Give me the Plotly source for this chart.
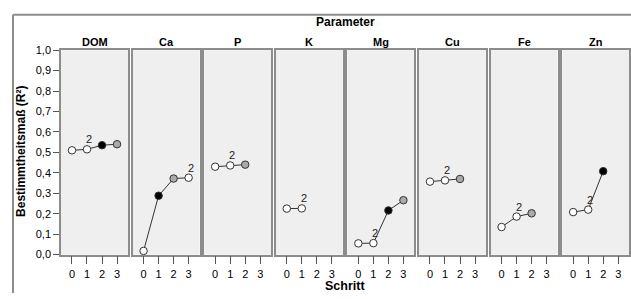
import plotly.graph_objects as go

params = ["DOM", "Ca", "P", "K", "Mg", "Cu", "Fe", "Zn"]
values = {
    "DOM": [0.51, 0.515, 0.535, 0.54],
    "Ca": [0.018, 0.288, 0.372, 0.376],
    "P": [0.43, 0.436, 0.44],
    "K": [0.225, 0.226],
    "Mg": [0.055, 0.056, 0.216, 0.266],
    "Cu": [0.357, 0.363, 0.37],
    "Fe": [0.135, 0.186, 0.202],
    "Zn": [0.208, 0.22, 0.408],
}
fills = {
    "DOM": ["w", "w", "b", "g"],
    "Ca": ["w", "b", "g", "w"],
    "P": ["w", "w", "g"],
    "K": ["w", "w"],
    "Mg": ["w", "w", "b", "g"],
    "Cu": ["w", "w", "g"],
    "Fe": ["w", "w", "g"],
    "Zn": ["w", "w", "b"],
}
label_step = {"DOM": 1, "Ca": 3, "P": 1, "K": 1, "Mg": 1, "Cu": 1, "Fe": 1, "Zn": 1}
label_text = "2"
x_ticks = [0, 1, 2, 3]
y_ticks = [0.0, 0.1, 0.2, 0.3, 0.4, 0.5, 0.6, 0.7, 0.8, 0.9, 1.0]
y_ticktext = ["0,0", "0,1", "0,2", "0,3", "0,4", "0,5", "0,6", "0,7", "0,8", "0,9", "1,0"]

W, H = 631, 299
color_map = {"w": "#ffffff", "b": "#000000", "g": "#aaaaaa"}
FONT = "Liberation Sans, Arial, sans-serif"

fig = go.Figure()
panel_left = 61
panel_w = 67
gap = 4.6
top_px, bot_px = 46, 259
ydom = [(H - bot_px) / H, (H - top_px) / H]
border = "#8c8c8c"
tickc = "#555555"

def paper_text(xpx, ypx, text, size, angle=0):
    return dict(x=xpx / W, y=(H - ypx) / H, xref="paper", yref="paper",
                xanchor="center", yanchor="middle", text=text, showarrow=False,
                textangle=angle, font=dict(family=FONT, size=size, color="#000"))

annotations = []
for i, p in enumerate(params):
    n = i + 1
    xa = "x" if n == 1 else f"x{n}"
    ya = "y" if n == 1 else f"y{n}"
    l = panel_left + i * (panel_w + gap)
    r = l + panel_w
    vals = values[p]
    fig.add_trace(go.Scatter(
        x=list(range(len(vals))), y=vals, xaxis=xa, yaxis=ya,
        mode="lines+markers",
        line=dict(color="#333333", width=1),
        marker=dict(size=7.5, color=[color_map[c] for c in fills[p]],
                    line=dict(color="#333333", width=1)),
        showlegend=False, hoverinfo="skip", cliponaxis=False,
    ))
    s = label_step[p]
    annotations.append(dict(x=s, y=vals[s], xref=xa, yref=ya, text=label_text,
                            xanchor="center", yanchor="middle",
                            showarrow=False, yshift=10, xshift=2,
                            font=dict(family=FONT, size=11, color="#222")))
    annotations.append(paper_text((l + r) / 2, 38, f"<b>{p}</b>", 11))
    xkey = "xaxis" if n == 1 else f"xaxis{n}"
    ykey = "yaxis" if n == 1 else f"yaxis{n}"
    fig.update_layout(**{
        xkey: dict(domain=[l / W, r / W], anchor=ya, range=[-0.73, 3.73],
                   tickvals=x_ticks, ticks="outside", ticklen=8, tickcolor=tickc,
                   tickwidth=1, showgrid=False, zeroline=False,
                   showline=True, mirror=True, linecolor=border, linewidth=1.5,
                   tickfont=dict(family=FONT, size=11, color="#000")),
        ykey: dict(domain=ydom, anchor=xa, range=[0, 1], tickvals=y_ticks,
                   ticktext=y_ticktext, showticklabels=(n == 1),
                   ticks="outside" if n == 1 else "", ticklen=6, tickcolor=tickc,
                   tickwidth=1, showgrid=False, zeroline=False,
                   showline=True, mirror=True, linecolor=border, linewidth=1.5,
                   tickfont=dict(family=FONT, size=11, color="#000")),
    })

annotations.append(paper_text(345, 17, "<b>Parameter</b>", 12))
annotations.append(paper_text(345, 292, "<b>Schritt</b>", 12.5))
annotations.append(paper_text(21, 152, "<b>Bestimmtheitsmaß (R²)</b>", 12, angle=-90))

shapes = [
    dict(type="line", xref="paper", yref="paper", x0=13 / W, x1=1, y0=(H - 9) / H, y1=(H - 9) / H,
         line=dict(color=border, width=2)),
    dict(type="line", xref="paper", yref="paper", x0=13 / W, x1=13 / W, y0=0, y1=(H - 9) / H,
         line=dict(color=border, width=2)),
]

fig.update_layout(width=W, height=H, margin=dict(l=0, r=0, t=0, b=0),
                  paper_bgcolor="white", plot_bgcolor="#efefef",
                  annotations=annotations, shapes=shapes)
fig.write_html("out.html", config={"displayModeBar": False},
               post_script="document.body.style.margin='0';document.body.style.overflow='hidden';")
